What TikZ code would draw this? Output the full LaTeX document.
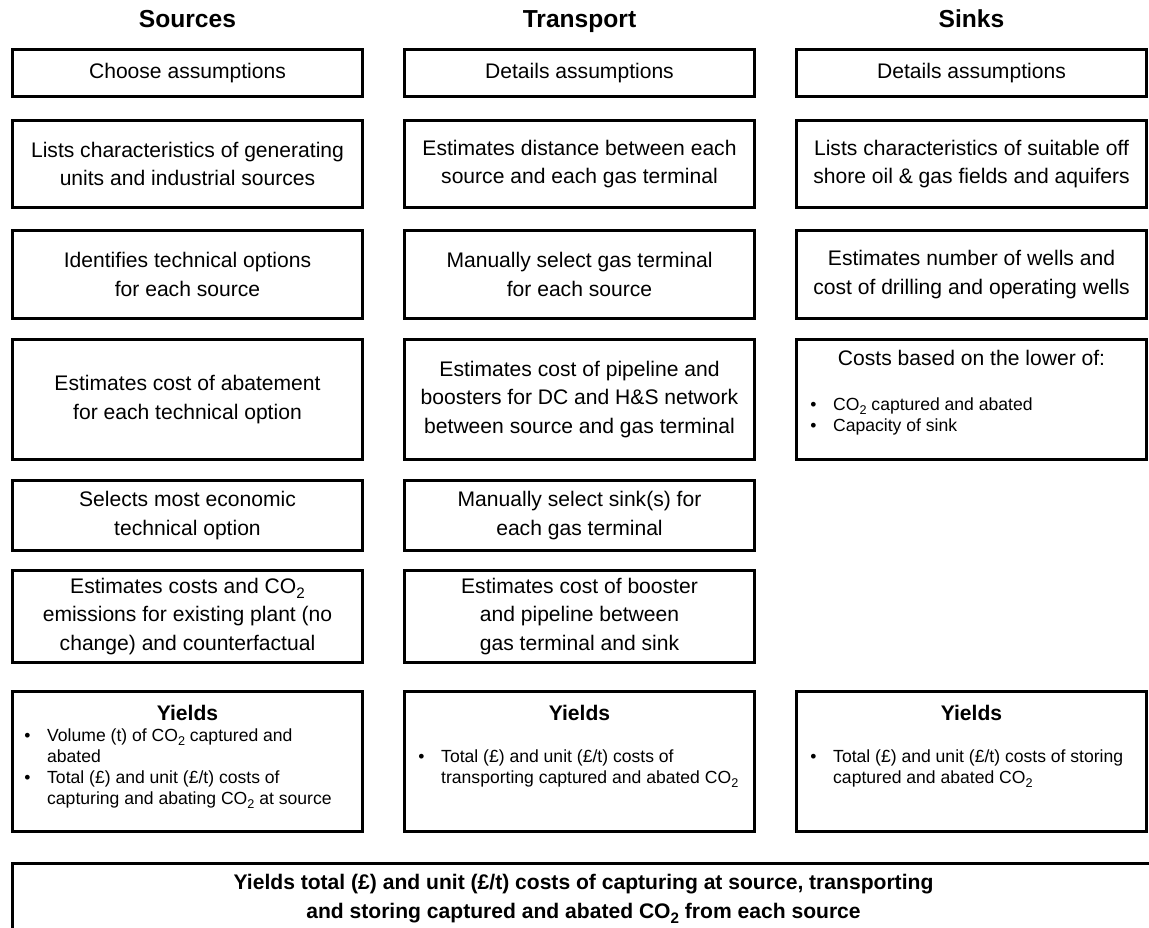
\documentclass[tikz,border=0pt]{standalone}
\usepackage{fontspec}
\usepackage{graphicx}
\setmainfont{Liberation Sans}
\newlength\pxu
\setlength\pxu{0.02cm}
\newcommand\mainsz{\fontsize{12}{16.1}\selectfont}
\newcommand\smallsz{\fontsize{10}{12}\selectfont}
\newcommand\headsz{\fontsize{14}{17}\selectfont\bfseries}
\newcommand\bul{\makebox[13pt][l]{\textbullet}}
\newcommand\cotwo{CO\raisebox{-0.45ex}{\scalebox{0.72}{2}}}
\tikzset{
  stepbox/.style={draw,line width=1.7pt,minimum width=350\pxu,inner sep=0pt,align=center,font=\mainsz},
  colhead/.style={font=\headsz,anchor=base},
  yieldhead/.style={font=\mainsz\bfseries},
  bullets/.style={anchor=north west,inner sep=0pt,font=\smallsz,align=left}
}

\begin{document}
\begin{tikzpicture}[x=0.02cm,y=-0.02cm]
\useasboundingbox (0,0) rectangle (1149,928);
\clip (0,0) rectangle (1149,928);
% column headings
\node[colhead] (hsrc) at (187.5,27.5) {Sources};
\node[colhead] (htrn) at (579.5,27.5) {Transport};
\node[colhead] (hsnk) at (971.5,27.5) {Sinks};
% sources
\node[stepbox,minimum height=47\pxu] (src1) at (187.5,73) {Choose assumptions};
\node[stepbox,minimum height=87\pxu] (src2) at (187.5,164) {Lists characteristics of generating\\units and industrial sources};
\node[stepbox,minimum height=88\pxu] (src3) at (187.5,274.5) {Identifies technical options\\for each source};
\node[stepbox,minimum height=120\pxu] (src4) at (187.5,399.5) {Estimates cost of abatement\\for each technical option};
\node[stepbox,minimum height=70\pxu] (src5) at (187.5,515.5) {Selects most economic\\technical option};
\node[stepbox,minimum height=92\pxu] (src6) at (187.5,616.5) {Estimates costs and \cotwo\\emissions for existing plant (no\\change) and counterfactual};
\node[stepbox,minimum height=140\pxu] (src7) at (187.5,761.5) {};
\node[yieldhead] (src7h) at (187.5,713) {Yields};
\node[bullets] (src7b) at (24,726) {\begin{tabular}{@{}l@{}l@{}}
\bul & Volume (t) of \cotwo{} captured and\\
 & abated\\
\bul & Total (£) and unit (£/t) costs of\\
 & capturing and abating \cotwo{} at source
\end{tabular}};
% transport
\node[stepbox,minimum height=47\pxu] (trn1) at (579.5,73) {Details assumptions};
\node[stepbox,minimum height=87\pxu] (trn2) at (579.5,164) {Estimates distance between each\\source and each gas terminal};
\node[stepbox,minimum height=88\pxu] (trn3) at (579.5,274.5) {Manually select gas terminal\\for each source};
\node[stepbox,minimum height=120\pxu] (trn4) at (579.5,399.5) {Estimates cost of pipeline and\\boosters for DC and H\&S network\\between source and gas terminal};
\node[stepbox,minimum height=70\pxu] (trn5) at (579.5,515.5) {Manually select sink(s) for\\each gas terminal};
\node[stepbox,minimum height=92\pxu] (trn6) at (579.5,616.5) {Estimates cost of booster\\and pipeline between\\gas terminal and sink};
\node[stepbox,minimum height=140\pxu] (trn7) at (579.5,761.5) {};
\node[yieldhead] (trn7h) at (579.5,713) {Yields};
\node[bullets] (trn7b) at (418,747) {\begin{tabular}{@{}l@{}l@{}}
\bul & Total (£) and unit (£/t) costs of\\
 & transporting captured and abated \cotwo
\end{tabular}};
% sinks
\node[stepbox,minimum height=47\pxu] (snk1) at (971.5,73) {Details assumptions};
\node[stepbox,minimum height=87\pxu] (snk2) at (971.5,164) {Lists characteristics of suitable off\\shore oil \& gas fields and aquifers};
\node[stepbox,minimum height=88\pxu] (snk3) at (971.5,274.5) {Estimates number of wells and\\cost of drilling and operating wells};
\node[stepbox,minimum height=120\pxu] (snk4) at (971.5,399.5) {};
\node[font=\mainsz] (snk4h) at (971.5,358) {Costs based on the lower of:};
\node[bullets] (snk4b) at (810,395) {\begin{tabular}{@{}l@{}l@{}}
\bul & \cotwo{} captured and abated\\
\bul & Capacity of sink
\end{tabular}};
\node[stepbox,minimum height=140\pxu] (snk7) at (971.5,761.5) {};
\node[yieldhead] (snk7h) at (971.5,713) {Yields};
\node[bullets] (snk7b) at (810,747) {\begin{tabular}{@{}l@{}l@{}}
\bul & Total (£) and unit (£/t) costs of storing\\
 & captured and abated \cotwo
\end{tabular}};
% overall result
\node[stepbox,font=\mainsz\bfseries,minimum width=1142\pxu,minimum height=71\pxu] (total) at (583.5,899)
  {Yields total (£) and unit (£/t) costs of capturing at source, transporting\\and storing captured and abated \cotwo{} from each source};
\end{tikzpicture}
\end{document}
